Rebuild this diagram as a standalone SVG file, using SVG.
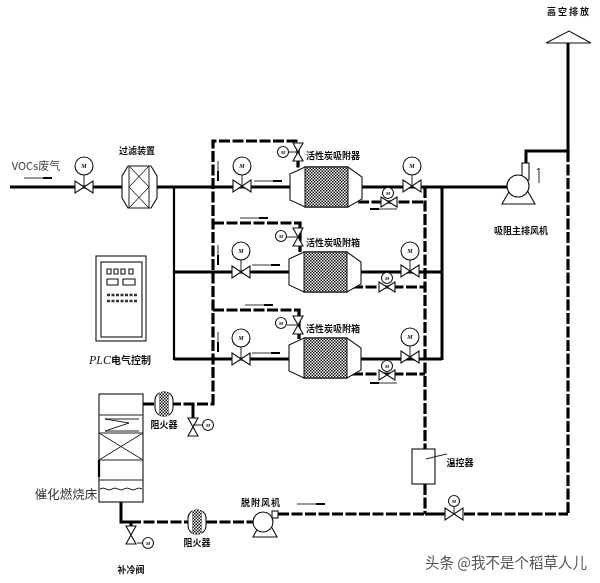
<svg xmlns="http://www.w3.org/2000/svg" width="600" height="583" viewBox="0 0 600 583">
<style>
text{font-family:"Noto Sans CJK SC","Liberation Sans",sans-serif;fill:#111;text-anchor:middle}
.lbl{font-size:9px;font-weight:700}
.pipe{fill:none;stroke:#000;stroke-width:3}
.thin{fill:none;stroke:#000;stroke-width:2.2}
.dash{fill:none;stroke:#000;stroke-width:3.2;stroke-dasharray:11 2.5}
.ln{fill:none;stroke:#222;stroke-width:1}
.sh{fill:#fff;stroke:#111;stroke-width:1.1}
.flow{fill:none;stroke:#333;stroke-width:1}
.tail{fill:none;stroke:#000;stroke-width:2}
.gt{font-family:"Liberation Serif",serif;font-size:6px;font-style:italic;font-weight:700}
</style>
<defs>
<filter id="soft" x="0" y="0" width="100%" height="100%"><feGaussianBlur stdDeviation="0.35"/></filter>
<pattern id="mesh" width="3" height="3" patternUnits="userSpaceOnUse">
<rect width="3" height="3" fill="#fff"/>
<rect width="1.5" height="1.5" fill="#111"/>
<rect x="1.5" y="1.5" width="1.5" height="1.5" fill="#111"/>
</pattern>
<g id="valve"><path class="sh" d="M-9,-6 L9,6 L9,-6 L-9,6 Z"/></g>
<g id="valveS"><path class="sh" d="M-8,-5 L8,5 L8,-5 L-8,5 Z"/></g>
<g id="vvalve"><path class="sh" d="M-5,-9 L5,-9 L-5,9 L5,9 Z"/></g>
<g id="gauge"><circle class="sh" r="9"/><text class="gt" y="2">M</text></g>
<g id="gaugeS"><circle class="sh" r="5.5"/><text class="gt" y="2" style="font-size:5px">M</text></g>
<g id="ads">
<path class="sh" d="M-36,-13 L-21,-20 L22,-20 L36,-10 L36,12 L22,20 L-21,20 L-36,13 Z"/>
<rect x="-21" y="-20" width="43" height="40" fill="url(#mesh)" stroke="#111"/>
</g>
<g id="arr">
<rect x="-9" y="-12" width="18" height="24" rx="8" class="sh"/>
<rect x="-5" y="-12" width="10" height="24" fill="url(#mesh)"/>
</g>
<g id="f1"><path class="flow" d="M0,0 H28"/><path class="tail" d="M19,0 H28"/></g>
<g id="f2"><path class="flow" d="M0,0 V20"/><path class="tail" d="M0,10 V20"/></g>
</defs>

<g filter="url(#soft)">
<rect width="600" height="583" fill="#fff"/>
<g id="connectors">
<path class="pipe" d="M10,187 H122 M157,187 H290 M362,187 H507"/>
<path class="pipe" d="M289,272 H174 M289,359 H174"/>
<path class="thin" d="M174,187 V360"/>
<path class="pipe" d="M361,272 H442 M361,359 H442"/>
<path class="pipe" d="M442,187 V360"/>
<path class="dash" d="M213,405 V141 H298 V168"/>
<path class="dash" d="M213,223 H300 V252"/>
<path class="dash" d="M213,310 H299 V339"/>
<path class="dash" d="M425,187 V449"/>
<path class="dash" d="M425,484 V514"/>
<path class="dash" d="M358,202 H425 M352,287 H425 M352,374 H425"/>
<path class="pipe" d="M526,163 V151 H568 V43"/>
<path class="dash" d="M568,151 V514"/>
<path class="dash" d="M278,514 H425"/>
<path class="pipe" d="M425,514 H445"/>
<path class="dash" d="M464,514 H568"/>
<path class="dash" d="M143,404 H214"/>
<path class="pipe" d="M193,404 V418"/>
<path class="pipe" d="M121,502 V522 H130"/>
<path class="dash" d="M130,522 H188 M206,522 H255"/>
<path class="pipe" d="M131,522 V526"/>
</g>

<g id="flows">
<use href="#f1" x="24" y="178"/>
<use href="#f1" x="254" y="181"/>
<use href="#f2" x="218" y="161"/>
<use href="#f1" x="240" y="218"/>
<use href="#f2" x="218" y="245"/>
<use href="#f1" x="252" y="265"/>
<use href="#f1" x="245" y="305"/>
<use href="#f2" x="218" y="332"/>
<use href="#f1" x="252" y="353"/>
<path class="flow" d="M370,209 H397 M370,383 H397"/><path class="tail" d="M370,209 H379 M370,383 H379"/>
<use href="#f1" x="297" y="504"/>
</g>

<g id="inlet"><text x="36" y="170" style="font-size:11px;fill:#444">VOCs废气</text></g>
<g id="inlet-valve"><path class="ln" d="M84,175 V187"/><use href="#valve" x="84" y="187"/><use href="#gauge" x="84" y="166"/></g>

<g id="filter">
<path class="sh" d="M128,166 H151 L157,176 V198 L151,208 H128 L122,198 V176 Z"/>
<path class="ln" d="M129,166 V208 M149,166 V208 M129,166 L149,187 L129,208 M149,166 L129,187 L149,208"/>
<text class="lbl" x="137" y="154">过滤装置</text>
</g>

<g id="adsorber-1">
<use href="#ads" x="326" y="187"/>
<use href="#vvalve" x="298" y="152"/><path class="ln" d="M289,152 H298"/><use href="#gaugeS" x="283" y="152"/>
<text class="lbl" x="333" y="159">活性炭吸附器</text>
<path class="ln" d="M242,175 V187"/><use href="#valve" x="242" y="186"/><use href="#gauge" x="242" y="166"/>
<path class="ln" d="M412,175 V187"/><use href="#valve" x="412" y="186"/><use href="#gauge" x="412" y="166"/>
<use href="#valveS" x="389" y="202"/><use href="#gaugeS" x="388" y="193"/>
</g>

<g id="adsorber-2">
<use href="#ads" x="325" y="272"/>
<use href="#vvalve" x="298" y="237"/><path class="ln" d="M287,237 H298"/><use href="#gaugeS" x="281" y="236"/>
<text class="lbl" x="333" y="246">活性炭吸附箱</text>
<path class="ln" d="M241,260 V272"/><use href="#valve" x="241" y="272"/><use href="#gauge" x="241" y="251"/>
<path class="ln" d="M410,260 V272"/><use href="#valve" x="410" y="271"/><use href="#gauge" x="410" y="251"/>
<use href="#valveS" x="387" y="287"/><use href="#gaugeS" x="387" y="278"/>
</g>

<g id="adsorber-3">
<use href="#ads" x="325" y="358"/>
<use href="#vvalve" x="298" y="325"/><path class="ln" d="M287,325 H298"/><use href="#gaugeS" x="281" y="323"/>
<text class="lbl" x="333" y="332">活性炭吸附箱</text>
<path class="ln" d="M241,347 V359"/><use href="#valve" x="241" y="359"/><use href="#gauge" x="241" y="338"/>
<path class="ln" d="M410,346 V358"/><use href="#valve" x="410" y="357"/><use href="#gauge" x="410" y="337"/>
<use href="#valveS" x="387" y="375"/><use href="#gaugeS" x="387" y="366"/>
</g>

<g id="stack">
<path class="sh" d="M546,43 L569,31 L591,43 Z"/>
<text class="lbl" x="569" y="15" style="letter-spacing:2px">高空排放</text>
</g>

<g id="main-fan">
<path class="sh" d="M502,204 L535,204 L527,190 L510,190 Z"/>
<rect class="sh" x="522" y="163" width="7" height="17"/>
<circle class="sh" cx="518" cy="186" r="11"/>
<path class="ln" d="M539,168 V183 M537,170 L539,168"/>
<text class="lbl" x="521" y="234">吸阻主排风机</text>
</g>

<g id="plc">
<rect class="sh" x="96" y="256" width="50" height="85"/>
<rect class="sh" x="101" y="262" width="41" height="75"/>
<path class="sh" d="M107,269 h4 v5 h-4 z M114,269 h4 v5 h-4 z M121,269 h4 v5 h-4 z M129,269 h4 v5 h-4 z M107,279 h11 v6 h-11 z M123,279 h12 v6 h-12 z"/>
<path fill="none" stroke="#333" stroke-width="2.6" stroke-dasharray="3 1.5" d="M107,295 H138 M107,301 H138"/>
<text x="120" y="364" style="font-size:10px;font-weight:700"><tspan style="font-family:'Liberation Serif',serif;font-style:italic;font-weight:400;font-size:12px">PLC</tspan>电气控制</text>
</g>

<g id="bed">
<rect class="sh" x="99" y="394" width="44" height="108"/>
<path class="ln" d="M99,415 H143 M99,433 H143 M99,460 H143 M99,480 H143 M99,433 L143,460 M143,433 L99,460"/>
<path class="ln" d="M105,419 L129,423 L105,431 M105,431 H139 M105,419 H139"/>
<path class="ln" d="M100,489 q3,-2 6,0 t6,0 t6,0 t6,0 t6,0 t6,0 t6,0"/>
<path class="thin" d="M99,460 V477"/>
<text x="66" y="499" style="font-size:12.5px;fill:#333">催化燃烧床</text>
</g>

<g id="arrestor-1">
<use href="#arr" x="164" y="404"/>
<text class="lbl" x="164" y="428">阻火器</text>
<use href="#vvalve" x="193" y="427"/><path class="ln" d="M193,425 H203"/><use href="#gaugeS" x="208" y="425"/>
</g>

<g id="arrestor-2">
<use href="#arr" x="197" y="522"/>
<text class="lbl" x="197" y="546">阻火器</text>
</g>

<g id="make-up-valve">
<use href="#vvalve" x="131" y="535"/><path class="ln" d="M137,543 H143"/><use href="#gaugeS" x="148" y="543"/>
<text class="lbl" x="131" y="573">补冷阀</text>
</g>

<g id="desorb-fan">
<path class="sh" d="M253,537 L277,537 L271,526 L259,526 Z"/>
<rect class="sh" x="272" y="511" width="6" height="7"/>
<circle class="sh" cx="263" cy="522" r="10"/>
<text class="lbl" x="261" y="506" style="letter-spacing:1px">脱附风机</text>
</g>

<g id="temp-controller">
<rect class="sh" x="412" y="449" width="23" height="35"/>
<path class="ln" d="M426,459 L438,456 L447,454"/>
<text class="lbl" x="460" y="466">温控器</text>
</g>

<g id="bottom-valve">
<path class="ln" d="M454,506 V514"/><use href="#valve" x="454" y="514"/><use href="#gaugeS" x="454" y="501"/>
</g>

<g id="watermark"><text x="506" y="568" style="font-size:14.5px;fill:#555">头条 @我不是个稻草人儿</text></g>
</g>
</svg>
